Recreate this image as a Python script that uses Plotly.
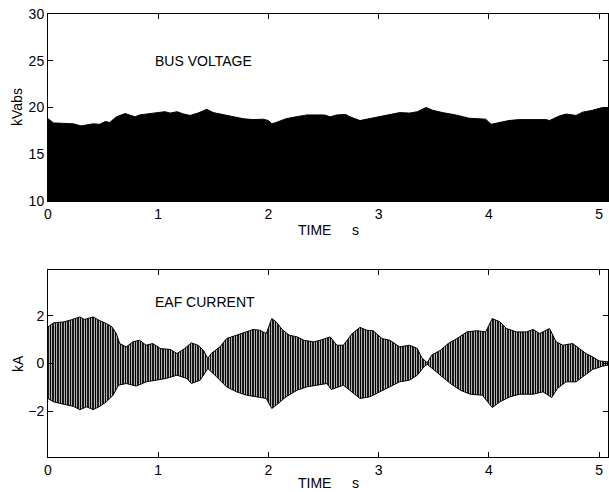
import plotly.graph_objects as go
from plotly.subplots import make_subplots

# ---- Bus voltage upper envelope (kV abs) ----
v_t = [0.00, 0.01, 0.05, 0.14, 0.23, 0.30, 0.41, 0.47, 0.52, 0.56, 0.62, 0.70, 0.74, 0.79, 0.83,
       0.89, 0.98, 1.06, 1.11, 1.17, 1.23, 1.29, 1.36, 1.44, 1.50, 1.56, 1.65, 1.71, 1.77,
       1.86, 1.95, 2.00, 2.03, 2.07, 2.16, 2.25, 2.35, 2.44, 2.51, 2.56, 2.62, 2.70, 2.74,
       2.83, 2.92, 3.01, 3.10, 3.19, 3.28, 3.35, 3.43, 3.49, 3.58, 3.70, 3.82, 3.91, 3.97,
       4.02, 4.09, 4.18, 4.27, 4.40, 4.52, 4.55, 4.63, 4.70, 4.79, 4.85, 4.94, 5.03, 5.08]
v_env = [18.8, 18.7, 18.35, 18.3, 18.25, 18.03, 18.25, 18.2, 18.5, 18.4, 19.0, 19.35, 19.2, 19.0, 19.2,
         19.3, 19.4, 19.55, 19.4, 19.55, 19.3, 19.15, 19.4, 19.8, 19.45, 19.3, 19.1, 19.0, 18.8,
         18.7, 18.75, 18.6, 18.25, 18.4, 18.8, 19.0, 19.2, 19.2, 19.2, 19.0, 19.2, 19.25, 19.0,
         18.6, 18.8, 19.0, 19.2, 19.45, 19.4, 19.55, 20.0, 19.7, 19.45, 19.2, 18.85, 18.75, 18.75,
         18.2, 18.4, 18.6, 18.7, 18.7, 18.7, 18.6, 19.05, 19.3, 19.15, 19.5, 19.7, 20.0, 19.95]

# ---- EAF current envelopes (kA) ----
i_up_t = [0.00, 0.05, 0.14, 0.20, 0.29, 0.33, 0.41, 0.47, 0.53, 0.58, 0.62, 0.65, 0.71, 0.77, 0.83,
          0.89, 0.95, 1.02, 1.11, 1.17, 1.24, 1.30, 1.36, 1.41, 1.45, 1.48, 1.56, 1.62, 1.71,
          1.80, 1.86, 1.92, 1.98, 2.03, 2.07, 2.13, 2.19, 2.26, 2.32, 2.41, 2.47, 2.56, 2.62,
          2.68, 2.76, 2.83, 2.89, 2.95, 3.03, 3.10, 3.19, 3.28, 3.35, 3.39, 3.44, 3.48, 3.56,
          3.63, 3.71, 3.80, 3.89, 3.97, 4.03, 4.10, 4.16, 4.25, 4.34, 4.40, 4.46, 4.55, 4.61,
          4.67, 4.76, 4.82, 4.88, 4.94, 5.00, 5.08]
i_up = [1.54, 1.71, 1.75, 1.82, 1.96, 1.85, 1.96, 1.80, 1.68, 1.54, 1.26, 0.84, 0.70, 0.91, 0.98,
        0.77, 0.84, 0.63, 0.59, 0.42, 0.63, 0.87, 0.77, 0.56, 0.21, 0.42, 0.70, 1.05, 1.19,
        1.33, 1.43, 1.40, 1.26, 1.89, 1.75, 1.40, 1.19, 1.12, 0.98, 0.91, 0.98, 1.12, 0.77,
        0.77, 1.26, 1.52, 1.40, 1.38, 1.05, 0.98, 0.70, 0.77, 0.63, 0.25, 0.03, 0.35, 0.56,
        0.84, 1.05, 1.33, 1.38, 1.33, 1.89, 1.75, 1.47, 1.33, 1.33, 1.43, 1.26, 1.47, 0.91,
        0.77, 0.84, 0.63, 0.42, 0.28, 0.11, 0.07]

i_lo_t = [0.00, 0.05, 0.14, 0.23, 0.29, 0.35, 0.41, 0.47, 0.53, 0.59, 0.64, 0.71, 0.80, 0.89, 0.98,
          1.07, 1.17, 1.26, 1.30, 1.38, 1.45, 1.53, 1.62, 1.71, 1.80, 1.89, 1.98, 2.03, 2.07,
          2.16, 2.26, 2.35, 2.44, 2.53, 2.57, 2.68, 2.77, 2.83, 2.92, 3.01, 3.10, 3.19, 3.28,
          3.35, 3.41, 3.44, 3.49, 3.56, 3.65, 3.74, 3.83, 3.94, 4.03, 4.10, 4.19, 4.28, 4.40,
          4.49, 4.57, 4.62, 4.70, 4.79, 4.85, 4.94, 5.03, 5.08]
i_lo = [-1.47, -1.61, -1.71, -1.80, -1.94, -1.82, -1.94, -1.80, -1.61, -1.33, -0.91, -0.84, -0.95, -0.77, -0.70,
        -0.63, -0.49, -0.63, -0.84, -0.70, -0.21, -0.56, -0.98, -1.19, -1.33, -1.40, -1.47, -1.89, -1.75,
        -1.40, -1.12, -0.98, -0.91, -0.84, -1.09, -0.91, -1.26, -1.47, -1.40, -1.19, -0.98, -0.77, -0.70,
        -0.49, -0.14, -0.03, -0.25, -0.49, -0.84, -1.12, -1.29, -1.33, -1.85, -1.61, -1.40, -1.29, -1.29,
        -1.19, -1.43, -1.05, -0.77, -0.77, -0.56, -0.25, -0.11, -0.07]

x_ticks = [0, 1, 2, 3, 4, 5]
v_ticks = [10, 15, 20, 25, 30]
i_ticks = [-2, 0, 2]

FONT = "Liberation Sans, Arial, sans-serif"

fig = make_subplots(rows=2, cols=1, vertical_spacing=0.156)

fig.add_trace(go.Scatter(x=v_t, y=v_env, mode="lines", fill="tozeroy",
                         fillcolor="black", line=dict(color="black", width=1),
                         hoverinfo="skip", showlegend=False), row=1, col=1)

band_x = i_up_t + i_lo_t[::-1]
band_y = i_up + i_lo[::-1]
fig.add_trace(go.Scatter(x=band_x, y=band_y, mode="lines", fill="toself",
                         fillcolor="black",
                         fillpattern=dict(shape="|", fgcolor="white", bgcolor="black",
                                          fgopacity=1, size=2.5, solidity=0.35),
                         line=dict(color="black", width=1),
                         hoverinfo="skip", showlegend=False), row=2, col=1)

axis_common = dict(showline=True, linecolor="black", linewidth=1, mirror="ticks",
                   ticks="inside", ticklen=5, tickcolor="black", tickwidth=1,
                   showgrid=False, zeroline=False,
                   tickfont=dict(family=FONT, size=14, color="black"))

fig.update_xaxes(range=[0, 5.08], tickvals=x_ticks, ticktext=[str(v) for v in x_ticks],
                 **axis_common)
fig.update_yaxes(range=[10, 30], tickvals=v_ticks, ticktext=[str(v) for v in v_ticks],
                 row=1, col=1, **axis_common)
fig.update_yaxes(range=[-3.93, 3.93], tickvals=i_ticks,
                 ticktext=["\u22122", "0", "2"], row=2, col=1, **axis_common)

ann = []
tf = dict(family=FONT, size=14, color="black")
ann.append(dict(text="BUS VOLTAGE", x=0.95, y=25, xref="x", yref="y",
                xanchor="left", yanchor="middle", showarrow=False, font=tf))
ann.append(dict(text="EAF CURRENT", x=0.95, y=2.59, xref="x2", yref="y2",
                xanchor="left", yanchor="middle", showarrow=False, font=tf))
for yp in [0.512, -0.059]:
    ann.append(dict(text="TIME", x=(314.7 - 48) / 560, y=yp, xref="paper", yref="paper",
                    xanchor="center", yanchor="middle", showarrow=False, font=tf))
    ann.append(dict(text="s", x=(355 - 48) / 560, y=yp, xref="paper", yref="paper",
                    xanchor="center", yanchor="middle", showarrow=False, font=tf))
ann.append(dict(text="kVabs", x=(17.5 - 48) / 560, y=20, xref="paper", yref="y",
                xanchor="center", yanchor="middle", textangle=-90, showarrow=False, font=tf))
ann.append(dict(text="kA", x=(17.5 - 48) / 560, y=0, xref="paper", yref="y2",
                xanchor="center", yanchor="middle", textangle=-90, showarrow=False, font=tf))

fig.update_layout(width=609, height=492, margin=dict(l=48, r=1, t=14, b=35),
                  plot_bgcolor="white", paper_bgcolor="white",
                  annotations=ann, showlegend=False)

fig.write_html("out.html", config={"displayModeBar": False},
               post_script="document.body.style.margin='0';document.body.style.overflow='hidden';")
